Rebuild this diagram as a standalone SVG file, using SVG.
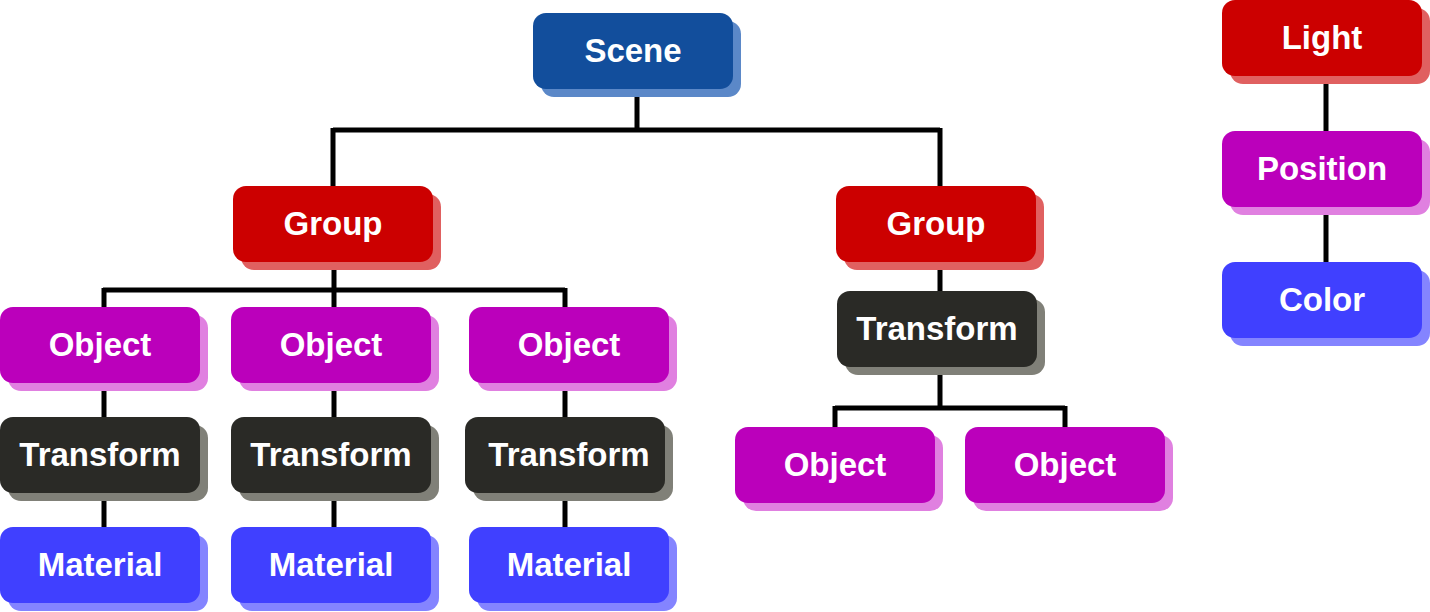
<svg xmlns="http://www.w3.org/2000/svg" width="1430" height="612" viewBox="0 0 1430 612">
<style>
text{font-family:"Liberation Sans",Arial,sans-serif;font-weight:bold;font-size:33px;fill:#fff;text-anchor:middle}
.c{fill:none;stroke:#000;stroke-width:5}
rect.s{x:8px;y:8px}
.blue .m{fill:#124e9c}.blue .s{fill:#5b88c8}
.red .m{fill:#cc0000}.red .s{fill:#e06060}
.pur .m{fill:#bb00bb}.pur .s{fill:#e080e0}
.dark .m{fill:#2a2a26}.dark .s{fill:#808078}
.vio .m{fill:#4040ff}.vio .s{fill:#8484ff}
</style>
<rect width="1430" height="612" fill="#fff"/>
<g id="connectors">
<path class="c" d="M637,97V130M333,130H940M333,128V186M940,128V186"/>
<path class="c" d="M334,270V290M103,290H565M104,288V307M334,288V307M565,288V307"/>
<path class="c" d="M104,390V417M104,500V528M334,390V417M334,500V528M565,390V417M565,500V528"/>
<path class="c" d="M940,270V291M940,375V408M835,408H1065M835,406V428M1065,406V428"/>
<path class="c" d="M1326,83V131M1326,215V262"/>
</g>
<g id="scene" class="blue" transform="translate(533,13)"><rect class="s" x="8" y="8" width="200" height="76" rx="13"/><rect class="m" width="200" height="76" rx="13"/><text x="100" y="49">Scene</text></g>
<g id="group1" class="red" transform="translate(233,186)"><rect class="s" x="8" y="8" width="200" height="76" rx="13"/><rect class="m" width="200" height="76" rx="13"/><text x="100" y="49">Group</text></g>
<g id="group2" class="red" transform="translate(836,186)"><rect class="s" x="8" y="8" width="200" height="76" rx="13"/><rect class="m" width="200" height="76" rx="13"/><text x="100" y="49">Group</text></g>
<g id="object1" class="pur" transform="translate(0,307)"><rect class="s" x="8" y="8" width="200" height="76" rx="13"/><rect class="m" width="200" height="76" rx="13"/><text x="100" y="49">Object</text></g>
<g id="object2" class="pur" transform="translate(231,307)"><rect class="s" x="8" y="8" width="200" height="76" rx="13"/><rect class="m" width="200" height="76" rx="13"/><text x="100" y="49">Object</text></g>
<g id="object3" class="pur" transform="translate(469,307)"><rect class="s" x="8" y="8" width="200" height="76" rx="13"/><rect class="m" width="200" height="76" rx="13"/><text x="100" y="49">Object</text></g>
<g id="transform1" class="dark" transform="translate(0,417)"><rect class="s" x="8" y="8" width="200" height="76" rx="13"/><rect class="m" width="200" height="76" rx="13"/><text x="100" y="49">Transform</text></g>
<g id="transform2" class="dark" transform="translate(231,417)"><rect class="s" x="8" y="8" width="200" height="76" rx="13"/><rect class="m" width="200" height="76" rx="13"/><text x="100" y="49">Transform</text></g>
<g id="transform3" class="dark" transform="translate(465,417)"><rect class="s" x="8" y="8" width="200" height="76" rx="13"/><rect class="m" width="200" height="76" rx="13"/><text x="104" y="49">Transform</text></g>
<g id="material1" class="vio" transform="translate(0,527)"><rect class="s" x="8" y="8" width="200" height="76" rx="13"/><rect class="m" width="200" height="76" rx="13"/><text x="100" y="49">Material</text></g>
<g id="material2" class="vio" transform="translate(231,527)"><rect class="s" x="8" y="8" width="200" height="76" rx="13"/><rect class="m" width="200" height="76" rx="13"/><text x="100" y="49">Material</text></g>
<g id="material3" class="vio" transform="translate(469,527)"><rect class="s" x="8" y="8" width="200" height="76" rx="13"/><rect class="m" width="200" height="76" rx="13"/><text x="100" y="49">Material</text></g>
<g id="transform4" class="dark" transform="translate(837,291)"><rect class="s" x="8" y="8" width="200" height="76" rx="13"/><rect class="m" width="200" height="76" rx="13"/><text x="100" y="49">Transform</text></g>
<g id="object4" class="pur" transform="translate(735,427)"><rect class="s" x="8" y="8" width="200" height="76" rx="13"/><rect class="m" width="200" height="76" rx="13"/><text x="100" y="49">Object</text></g>
<g id="object5" class="pur" transform="translate(965,427)"><rect class="s" x="8" y="8" width="200" height="76" rx="13"/><rect class="m" width="200" height="76" rx="13"/><text x="100" y="49">Object</text></g>
<g id="light" class="red" transform="translate(1222,0)"><rect class="s" x="8" y="8" width="200" height="76" rx="13"/><rect class="m" width="200" height="76" rx="13"/><text x="100" y="49">Light</text></g>
<g id="position" class="pur" transform="translate(1222,131)"><rect class="s" x="8" y="8" width="200" height="76" rx="13"/><rect class="m" width="200" height="76" rx="13"/><text x="100" y="49">Position</text></g>
<g id="color" class="vio" transform="translate(1222,262)"><rect class="s" x="8" y="8" width="200" height="76" rx="13"/><rect class="m" width="200" height="76" rx="13"/><text x="100" y="49">Color</text></g>
</svg>
